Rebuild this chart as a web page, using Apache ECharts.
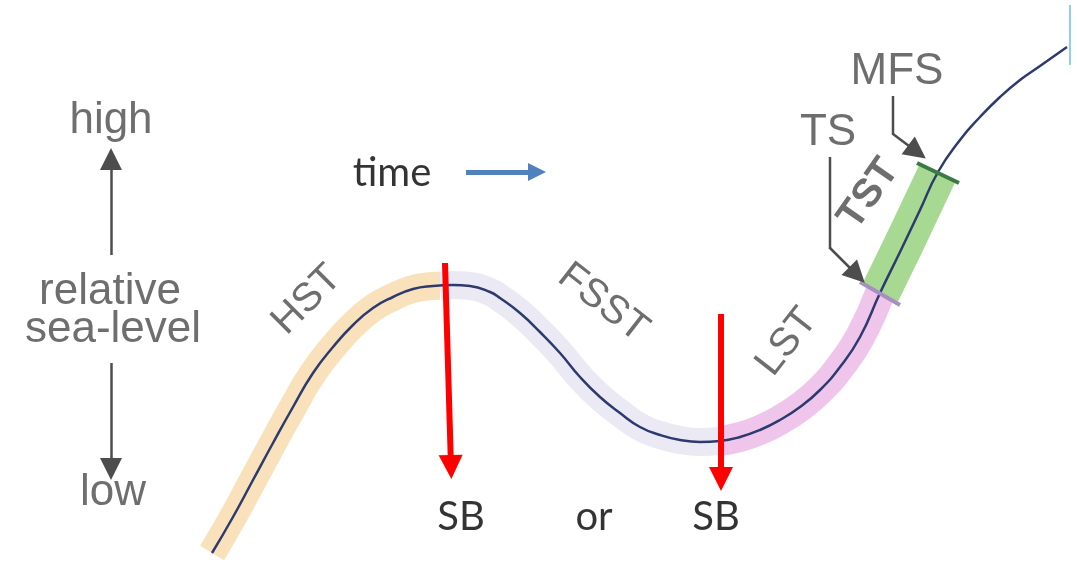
<!DOCTYPE html>
<html><head><meta charset="utf-8">
<script src="https://cdn.jsdelivr.net/npm/echarts@6/dist/echarts.min.js"></script>
<style>html,body{margin:0;padding:0;background:#fff}#c{width:1077px;height:563px}</style>
</head><body><div id="c"></div>
<script>
// relative sea-level curve (time, level)
var curveTime  = [212,233,253,273,293,313,333,353,373,393,413,433,453,470,490,500,520,540,560,580,600,620,640,660,680,700,720,740,760,780,800,820,840,860,880,900,920,938,960,980,1000,1020,1040,1067];
var curveLevel = [ 10, 46, 83,120,156,190,216,238,255,266,274,277,278,277,271,265,250,231,210,186,166,150,136,128,123,121,122,126,133,143,156,173,196,226,270,311,353,391,423,446, 466, 483, 497, 516];

// systems tracts: name, start time, end time
var tractNames = ['HST','FSST','LST','TST'];
var tractStart = [212,440,720,880];
var tractEnd   = [440,720,880,938];

// sequence boundary arrows (time, top level, bottom level)
var sbTime = [[445,451],[721,721]];
var sbTop = [300,249];
var sbBottom = [96,84];

// text annotations
var labelText = ['high','relative','sea-level','low','time','HST','FSST','LST','TST','TS','MFS','SB','or','SB'];
var labelTime = [111,110,113,113,392,307,603,787,869,828,897,461,594,716];
var labelLevel= [442,271,233,70,390,263,260,221,369,430,491,46,46,46];

var chart = echarts.init(document.getElementById('c'), null, {renderer:'canvas'});

function levelAt(t){for(var i=0;i<curveTime.length-1;i++){if(t>=curveTime[i]&&t<=curveTime[i+1]){var f=(t-curveTime[i])/(curveTime[i+1]-curveTime[i]);return curveLevel[i]+f*(curveLevel[i+1]-curveLevel[i]);}}return 0;}
function pts(a,b){var r=[[a,levelAt(a)]];for(var i=0;i<curveTime.length;i++){if(curveTime[i]>a&&curveTime[i]<b)r.push([curveTime[i],curveLevel[i]]);}r.push([b,levelAt(b)]);return r;}

var bandColors = ['rgba(246,214,158,0.7)','rgba(226,224,240,0.7)','rgba(233,178,230,0.75)','rgba(163,215,140,0.95)'];
var bandWidths = [28,28,30,40];
var series = [];
tractNames.forEach(function(n,i){
  series.push({type:'line',name:n,data:pts(tractStart[i],tractEnd[i]),smooth:0.5,symbol:'none',
    lineStyle:{color:bandColors[i],width:bandWidths[i],cap:'butt'},z:1,silent:true});
});
series.push({type:'line',name:'sea level',data:curveTime.map(function(t,i){return [t,curveLevel[i]];}),smooth:0.5,symbol:'none',
  lineStyle:{color:'#2d3a6e',width:2.5},z:5});

// surface ticks TS and MFS (marks across the band)
var tsT=880, mfsT=938;
series.push({type:'lines',coordinateSystem:'cartesian2d',z:6,silent:true,symbol:['none','none'],
  data:[{coords:[[tsT-20,levelAt(tsT)+11],[tsT+20,levelAt(tsT)-12]],lineStyle:{color:'#a690c0',width:4,opacity:1}},
        {coords:[[mfsT-21,levelAt(mfsT)+9],[mfsT+21,levelAt(mfsT)-11]],lineStyle:{color:'#3a7a44',width:4,opacity:1}}]});

// leader lines without heads
series.push({type:'lines',coordinateSystem:'cartesian2d',polyline:true,z:6,silent:true,symbol:['none','none'],
  lineStyle:{color:'#4d4d4d',width:2.5,opacity:1},
  data:[{coords:[[830,406],[830,314]]},{coords:[[893,467],[893,428]]}]});
// gray arrows with heads
series.push({type:'lines',coordinateSystem:'cartesian2d',z:6,silent:true,symbol:['none','triangle'],symbolSize:[14,22],
  lineStyle:{color:'#4d4d4d',width:2.5,opacity:1},
  data:[{coords:[[111,308],[111,404]]},{coords:[[111,200],[111,94]]},
        {coords:[[830,315],[857,288]]},{coords:[[893,429],[917,411]]}]});
// time arrow
series.push({type:'lines',coordinateSystem:'cartesian2d',z:6,silent:true,symbol:['none','triangle'],symbolSize:[18,18],
  lineStyle:{color:'#4f81bd',width:5,opacity:1},data:[{coords:[[466,391],[537,391]]}]});
// SB arrows
series.push({type:'lines',coordinateSystem:'cartesian2d',z:7,silent:true,symbol:['none','triangle'],symbolSize:[24,24],
  lineStyle:{color:'#ff0000',width:6,opacity:1},
  data:sbTime.map(function(t,i){return {coords:[[t[0],sbTop[i]],[t[1],sbBottom[i]]]};})});
// thin edge line at top right
series.push({type:'lines',coordinateSystem:'cartesian2d',z:6,silent:true,symbol:['none','none'],
  lineStyle:{color:'#8fd0ef',width:2,opacity:1},data:[{coords:[[1070,558],[1070,498]]}]});

// labels
var grayFont = {fontFamily:'Liberation Sans',fontSize:44,color:'#4a4a4a'};
var blackFont = {fontFamily:'Lato',fontSize:40,color:'#000'};
var rot = {HST:45,FSST:-38,LST:52,TST:55};
series.push({type:'scatter',symbolSize:0,z:10,silent:true,
  data:labelText.map(function(s,i){
    var f = (i===4||i>=11)?blackFont:grayFont;
    return {value:[labelTime[i],labelLevel[i]],label:{show:true,position:'inside',formatter:s,
      rotate:rot[s]||0,fontFamily:f.fontFamily,fontSize:(s==='HST'||s==='FSST'||s==='LST'||s==='TST')?40:f.fontSize,color:f.color,
      fontWeight:s==='TST'?'bold':'normal',align:'center',verticalAlign:'middle'}};
  })});

chart.setOption({
  animation:false,
  grid:{left:0,right:0,top:0,bottom:0},
  xAxis:{type:'value',min:0,max:1077,show:false},
  yAxis:{type:'value',min:0,max:563,show:false},
  series:series
});
</script></body></html>
